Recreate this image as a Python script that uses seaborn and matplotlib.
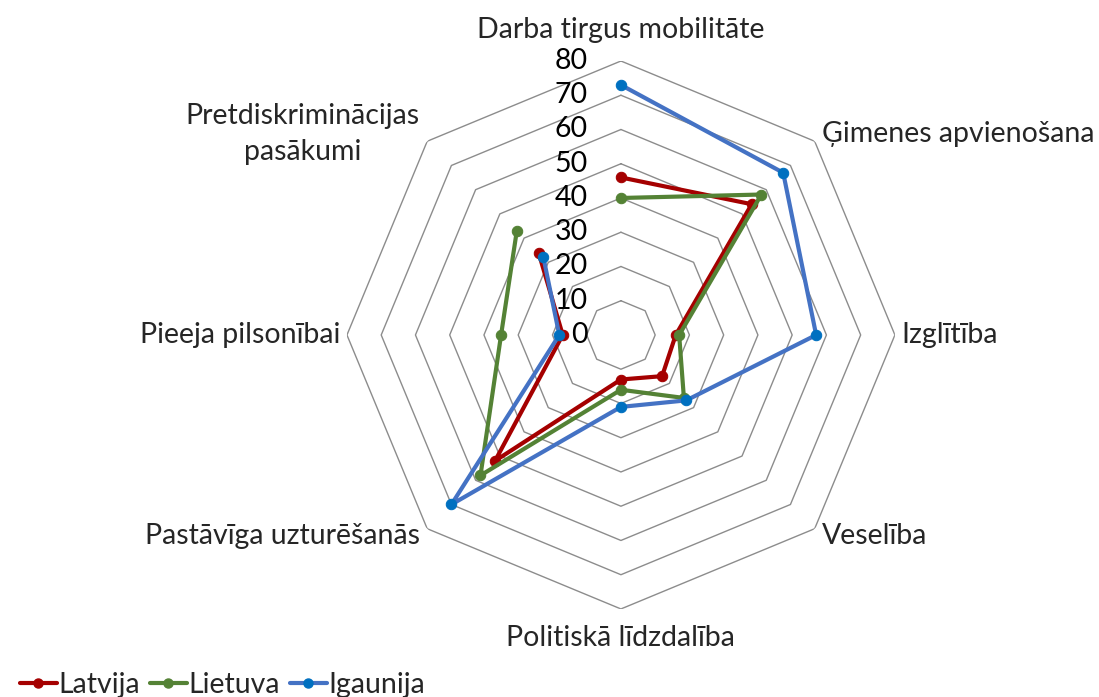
import numpy as np
import pandas as pd
import matplotlib
matplotlib.use("Agg")
import matplotlib.pyplot as plt
import seaborn as sns

categories = ["Darba tirgus mobilitāte", "Ģimenes apvienošana", "Izglītība", "Veselība",
              "Politiskā līdzdalība", "Pastāvīga uzturēšanās", "Pieeja pilsonībai",
              "Pretdiskriminācijas\npasākumi"]
latvija = [46, 54, 16, 17, 13, 52, 17, 34]
lietuva = [40, 58, 17, 26, 16, 58, 35, 43]
igaunija = [73, 67, 57, 27, 21, 70, 18, 32]
countries = ["Latvija", "Lietuva", "Igaunija"]
ticks = [0, 10, 20, 30, 40, 50, 60, 70, 80]

line_colors = {"Latvija": "#A50000", "Lietuva": "#548235", "Igaunija": "#4472C4"}
marker_colors = {"Latvija": "#A50000", "Lietuva": "#548235", "Igaunija": "#0070C0"}

sns.set_style("white")
plt.rcParams["font.family"] = ["Lato", "DejaVu Sans"]
fs = 20.5

n = len(categories)
angles = np.arange(n) * 2 * np.pi / n

# long table, each polygon closed by repeating the first point
rows = []
for name, vals in zip(countries, [latvija, lietuva, igaunija]):
    for i in list(range(n)) + [0]:
        rows.append({"country": name, "theta": angles[i], "value": vals[i]})
df = pd.DataFrame(rows)

fig = plt.figure(figsize=(10.99, 6.97), dpi=100)
ax = fig.add_axes([0.3157, 0.1263, 0.4986, 0.7862], projection="polar")
ax.set_theta_zero_location("N")
ax.set_theta_direction(-1)
ax.set_ylim(0, 80)
ax.grid(False)
ax.spines["polar"].set_visible(False)
ax.set_xticks([])
ax.set_yticks([])

# octagonal grid
closed = np.append(angles, angles[0])
for t in ticks[1:]:
    ax.plot(closed, [t] * (n + 1), color="#8C8C8C", lw=1.0, zorder=1)

for name in countries:
    sub = df[df["country"] == name]
    sns.lineplot(data=sub, x="theta", y="value", sort=False, ax=ax,
                 color=line_colors[name], lw=3.0, marker="o", markersize=7.5,
                 markerfacecolor=marker_colors[name], markeredgecolor=marker_colors[name],
                 label=name, zorder=3, legend=False)

# radial tick labels to the left of the top axis
for t in ticks:
    ax.annotate(str(t), xy=(0, t), xytext=(-33, 0), textcoords="offset pixels",
                ha="right", va="center", fontsize=fs, color="black")

# category labels
label_pos = [(89, "center", "center"), (83, "left", "center"), (82, "left", "center"),
             (83, "left", "center"), (88.5, "center", "center"), (83, "right", "center"),
             (82, "right", "center"), (83, "right", "center")]
for ang, cat, (r, ha, va) in zip(angles, categories, label_pos):
    ax.text(ang, r, cat, ha=ha, va=va, fontsize=fs, multialignment="center",
            linespacing=1.45)

handles = [plt.Line2D([], [], color=line_colors[c], lw=3.0, marker="o", markersize=6.5,
                      markerfacecolor=marker_colors[c], markeredgecolor=marker_colors[c])
           for c in countries]
fig.legend(handles, countries, loc="lower left", bbox_to_anchor=(0.0, -0.03), ncol=3,
           frameon=False, fontsize=fs, handlelength=1.3, handletextpad=0.05,
           columnspacing=0.35, borderpad=0.2)

fig.savefig("out.png", dpi=100)
